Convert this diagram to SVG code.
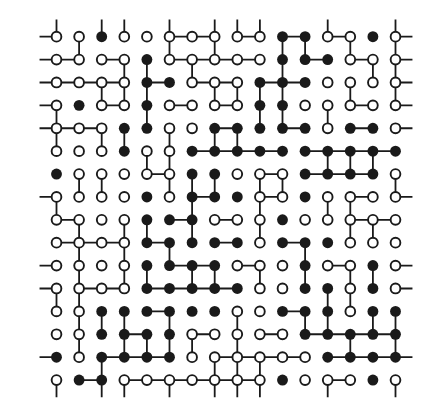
<svg xmlns="http://www.w3.org/2000/svg" width="435" height="412" viewBox="0 0 435 412">
<style>
.e{fill:none;stroke:#1a1a1a;stroke-width:1.8;vector-effect:non-scaling-stroke}
.o{fill:#fff;stroke:#1a1a1a;stroke-width:1.9;vector-effect:non-scaling-stroke}
.f{fill:#1a1a1a}
</style>
<rect width="435" height="412" fill="#fff"/>
<g transform="translate(56.5 36.7) scale(22.6 22.89)">
<g id="connectors">
<path class="e" d="M-0.75 0h0.75M-0.75 1h0.75M-0.75 2h0.75M-0.75 3h0.75M-0.75 4h0.75M-0.75 7h0.75M-0.75 10h0.75M-0.75 11h0.75M-0.75 14h0.75M15 0h0.75M15 1h0.75M15 2h0.75M15 3h0.75M15 4h0.75M15 7h0.75M15 10h0.75M15 11h0.75M15 14h0.75M0 -0.75v0.75M2 -0.75v0.75M3 -0.75v0.75M5 -0.75v0.75M7 -0.75v0.75M8 -0.75v0.75M9 -0.75v0.75M12 -0.75v0.75M15 -0.75v0.75M0 15v0.75M2 15v0.75M3 15v0.75M5 15v0.75M7 15v0.75M8 15v0.75M9 15v0.75M12 15v0.75M15 15v0.75"/>
<path class="e" d="M5 0h2M8 0h1M10 0h1M12 0h1M0 1h1M2 1h1M5 1h4M11 1h1M13 1h1M0 2h3M4 2h1M6 2h2M9 2h2M2 3h1M5 3h1M7 3h1M13 3h1M0 4h2M7 4h1M10 4h1M13 4h1M6 5h4M11 5h4M4 6h1M9 6h1M11 6h3M6 7h1M9 7h1M13 7h1M0 8h1M5 8h1M7 8h1M13 8h2M0 9h3M4 9h1M7 9h1M10 9h1M5 10h2M8 10h1M12 10h1M1 11h2M4 11h4M4 12h1M10 12h1M3 13h1M6 13h1M9 13h1M11 13h4M2 14h3M7 14h4M12 14h3M1 15h1M3 15h6M12 15h1"/>
<path class="e" d="M1 0v1M5 0v1M7 0v1M10 0v1M11 0v1M13 0v1M15 0v1M3 1v1M4 1v1M6 1v1M10 1v1M14 1v1M15 1v1M2 2v1M3 2v1M4 2v1M7 2v1M8 2v1M9 2v1M10 2v1M13 2v1M15 2v1M0 3v1M4 3v1M9 3v1M10 3v1M12 3v1M0 4v1M2 4v1M3 4v1M5 4v1M7 4v1M8 4v1M4 5v1M5 5v1M12 5v1M13 5v1M14 5v1M1 6v1M2 6v1M5 6v1M6 6v1M7 6v1M9 6v1M10 6v1M15 6v1M0 7v1M6 7v1M9 7v1M12 7v1M13 7v1M1 8v1M3 8v1M4 8v1M6 8v1M9 8v1M13 8v1M14 8v1M1 9v1M3 9v1M5 9v1M11 9v1M1 10v1M3 10v1M4 10v1M6 10v1M7 10v1M9 10v1M11 10v1M13 10v1M14 10v1M0 11v1M1 11v1M12 11v1M13 11v1M1 12v1M2 12v1M3 12v1M5 12v1M8 12v1M11 12v1M12 12v1M14 12v1M15 12v1M1 13v1M3 13v1M4 13v1M5 13v1M6 13v1M8 13v1M13 13v1M15 13v1M2 14v1M7 14v1M8 14v1M9 14v1"/>
</g>
<g id="nodes">
<g id="n1-1"><circle class="o" cx="0" cy="0" r=".215"/></g>
<g id="n1-2"><circle class="o" cx="1" cy="0" r=".215"/></g>
<g id="n1-3"><circle class="f" cx="2" cy="0" r=".24"/></g>
<g id="n1-4"><circle class="o" cx="3" cy="0" r=".215"/></g>
<g id="n1-5"><circle class="o" cx="4" cy="0" r=".215"/></g>
<g id="n1-6"><circle class="o" cx="5" cy="0" r=".215"/></g>
<g id="n1-7"><circle class="o" cx="6" cy="0" r=".215"/></g>
<g id="n1-8"><circle class="o" cx="7" cy="0" r=".215"/></g>
<g id="n1-9"><circle class="o" cx="8" cy="0" r=".215"/></g>
<g id="n1-10"><circle class="o" cx="9" cy="0" r=".215"/></g>
<g id="n1-11"><circle class="f" cx="10" cy="0" r=".24"/></g>
<g id="n1-12"><circle class="f" cx="11" cy="0" r=".24"/></g>
<g id="n1-13"><circle class="o" cx="12" cy="0" r=".215"/></g>
<g id="n1-14"><circle class="o" cx="13" cy="0" r=".215"/></g>
<g id="n1-15"><circle class="f" cx="14" cy="0" r=".24"/></g>
<g id="n1-16"><circle class="o" cx="15" cy="0" r=".215"/></g>
<g id="n2-1"><circle class="o" cx="0" cy="1" r=".215"/></g>
<g id="n2-2"><circle class="o" cx="1" cy="1" r=".215"/></g>
<g id="n2-3"><circle class="o" cx="2" cy="1" r=".215"/></g>
<g id="n2-4"><circle class="o" cx="3" cy="1" r=".215"/></g>
<g id="n2-5"><circle class="f" cx="4" cy="1" r=".24"/></g>
<g id="n2-6"><circle class="o" cx="5" cy="1" r=".215"/></g>
<g id="n2-7"><circle class="o" cx="6" cy="1" r=".215"/></g>
<g id="n2-8"><circle class="o" cx="7" cy="1" r=".215"/></g>
<g id="n2-9"><circle class="o" cx="8" cy="1" r=".215"/></g>
<g id="n2-10"><circle class="o" cx="9" cy="1" r=".215"/></g>
<g id="n2-11"><circle class="f" cx="10" cy="1" r=".24"/></g>
<g id="n2-12"><circle class="f" cx="11" cy="1" r=".24"/></g>
<g id="n2-13"><circle class="f" cx="12" cy="1" r=".24"/></g>
<g id="n2-14"><circle class="o" cx="13" cy="1" r=".215"/></g>
<g id="n2-15"><circle class="o" cx="14" cy="1" r=".215"/></g>
<g id="n2-16"><circle class="o" cx="15" cy="1" r=".215"/></g>
<g id="n3-1"><circle class="o" cx="0" cy="2" r=".215"/></g>
<g id="n3-2"><circle class="o" cx="1" cy="2" r=".215"/></g>
<g id="n3-3"><circle class="o" cx="2" cy="2" r=".215"/></g>
<g id="n3-4"><circle class="o" cx="3" cy="2" r=".215"/></g>
<g id="n3-5"><circle class="f" cx="4" cy="2" r=".24"/></g>
<g id="n3-6"><circle class="f" cx="5" cy="2" r=".24"/></g>
<g id="n3-7"><circle class="o" cx="6" cy="2" r=".215"/></g>
<g id="n3-8"><circle class="o" cx="7" cy="2" r=".215"/></g>
<g id="n3-9"><circle class="o" cx="8" cy="2" r=".215"/></g>
<g id="n3-10"><circle class="f" cx="9" cy="2" r=".24"/></g>
<g id="n3-11"><circle class="f" cx="10" cy="2" r=".24"/></g>
<g id="n3-12"><circle class="f" cx="11" cy="2" r=".24"/></g>
<g id="n3-13"><circle class="o" cx="12" cy="2" r=".215"/></g>
<g id="n3-14"><circle class="o" cx="13" cy="2" r=".215"/></g>
<g id="n3-15"><circle class="o" cx="14" cy="2" r=".215"/></g>
<g id="n3-16"><circle class="o" cx="15" cy="2" r=".215"/></g>
<g id="n4-1"><circle class="o" cx="0" cy="3" r=".215"/></g>
<g id="n4-2"><circle class="f" cx="1" cy="3" r=".24"/></g>
<g id="n4-3"><circle class="o" cx="2" cy="3" r=".215"/></g>
<g id="n4-4"><circle class="o" cx="3" cy="3" r=".215"/></g>
<g id="n4-5"><circle class="f" cx="4" cy="3" r=".24"/></g>
<g id="n4-6"><circle class="o" cx="5" cy="3" r=".215"/></g>
<g id="n4-7"><circle class="o" cx="6" cy="3" r=".215"/></g>
<g id="n4-8"><circle class="o" cx="7" cy="3" r=".215"/></g>
<g id="n4-9"><circle class="o" cx="8" cy="3" r=".215"/></g>
<g id="n4-10"><circle class="f" cx="9" cy="3" r=".24"/></g>
<g id="n4-11"><circle class="f" cx="10" cy="3" r=".24"/></g>
<g id="n4-12"><circle class="o" cx="11" cy="3" r=".215"/></g>
<g id="n4-13"><circle class="o" cx="12" cy="3" r=".215"/></g>
<g id="n4-14"><circle class="o" cx="13" cy="3" r=".215"/></g>
<g id="n4-15"><circle class="o" cx="14" cy="3" r=".215"/></g>
<g id="n4-16"><circle class="o" cx="15" cy="3" r=".215"/></g>
<g id="n5-1"><circle class="o" cx="0" cy="4" r=".215"/></g>
<g id="n5-2"><circle class="o" cx="1" cy="4" r=".215"/></g>
<g id="n5-3"><circle class="o" cx="2" cy="4" r=".215"/></g>
<g id="n5-4"><circle class="f" cx="3" cy="4" r=".24"/></g>
<g id="n5-5"><circle class="f" cx="4" cy="4" r=".24"/></g>
<g id="n5-6"><circle class="o" cx="5" cy="4" r=".215"/></g>
<g id="n5-7"><circle class="o" cx="6" cy="4" r=".215"/></g>
<g id="n5-8"><circle class="f" cx="7" cy="4" r=".24"/></g>
<g id="n5-9"><circle class="f" cx="8" cy="4" r=".24"/></g>
<g id="n5-10"><circle class="f" cx="9" cy="4" r=".24"/></g>
<g id="n5-11"><circle class="f" cx="10" cy="4" r=".24"/></g>
<g id="n5-12"><circle class="f" cx="11" cy="4" r=".24"/></g>
<g id="n5-13"><circle class="o" cx="12" cy="4" r=".215"/></g>
<g id="n5-14"><circle class="f" cx="13" cy="4" r=".24"/></g>
<g id="n5-15"><circle class="f" cx="14" cy="4" r=".24"/></g>
<g id="n5-16"><circle class="o" cx="15" cy="4" r=".215"/></g>
<g id="n6-1"><circle class="o" cx="0" cy="5" r=".215"/></g>
<g id="n6-2"><circle class="o" cx="1" cy="5" r=".215"/></g>
<g id="n6-3"><circle class="o" cx="2" cy="5" r=".215"/></g>
<g id="n6-4"><circle class="f" cx="3" cy="5" r=".24"/></g>
<g id="n6-5"><circle class="o" cx="4" cy="5" r=".215"/></g>
<g id="n6-6"><circle class="o" cx="5" cy="5" r=".215"/></g>
<g id="n6-7"><circle class="f" cx="6" cy="5" r=".24"/></g>
<g id="n6-8"><circle class="f" cx="7" cy="5" r=".24"/></g>
<g id="n6-9"><circle class="f" cx="8" cy="5" r=".24"/></g>
<g id="n6-10"><circle class="f" cx="9" cy="5" r=".24"/></g>
<g id="n6-11"><circle class="f" cx="10" cy="5" r=".24"/></g>
<g id="n6-12"><circle class="f" cx="11" cy="5" r=".24"/></g>
<g id="n6-13"><circle class="f" cx="12" cy="5" r=".24"/></g>
<g id="n6-14"><circle class="f" cx="13" cy="5" r=".24"/></g>
<g id="n6-15"><circle class="f" cx="14" cy="5" r=".24"/></g>
<g id="n6-16"><circle class="f" cx="15" cy="5" r=".24"/></g>
<g id="n7-1"><circle class="f" cx="0" cy="6" r=".24"/></g>
<g id="n7-2"><circle class="o" cx="1" cy="6" r=".215"/></g>
<g id="n7-3"><circle class="o" cx="2" cy="6" r=".215"/></g>
<g id="n7-4"><circle class="o" cx="3" cy="6" r=".215"/></g>
<g id="n7-5"><circle class="o" cx="4" cy="6" r=".215"/></g>
<g id="n7-6"><circle class="o" cx="5" cy="6" r=".215"/></g>
<g id="n7-7"><circle class="f" cx="6" cy="6" r=".24"/></g>
<g id="n7-8"><circle class="f" cx="7" cy="6" r=".24"/></g>
<g id="n7-9"><circle class="o" cx="8" cy="6" r=".215"/></g>
<g id="n7-10"><circle class="o" cx="9" cy="6" r=".215"/></g>
<g id="n7-11"><circle class="o" cx="10" cy="6" r=".215"/></g>
<g id="n7-12"><circle class="f" cx="11" cy="6" r=".24"/></g>
<g id="n7-13"><circle class="f" cx="12" cy="6" r=".24"/></g>
<g id="n7-14"><circle class="f" cx="13" cy="6" r=".24"/></g>
<g id="n7-15"><circle class="f" cx="14" cy="6" r=".24"/></g>
<g id="n7-16"><circle class="o" cx="15" cy="6" r=".215"/></g>
<g id="n8-1"><circle class="o" cx="0" cy="7" r=".215"/></g>
<g id="n8-2"><circle class="o" cx="1" cy="7" r=".215"/></g>
<g id="n8-3"><circle class="o" cx="2" cy="7" r=".215"/></g>
<g id="n8-4"><circle class="o" cx="3" cy="7" r=".215"/></g>
<g id="n8-5"><circle class="f" cx="4" cy="7" r=".24"/></g>
<g id="n8-6"><circle class="o" cx="5" cy="7" r=".215"/></g>
<g id="n8-7"><circle class="f" cx="6" cy="7" r=".24"/></g>
<g id="n8-8"><circle class="f" cx="7" cy="7" r=".24"/></g>
<g id="n8-9"><circle class="f" cx="8" cy="7" r=".24"/></g>
<g id="n8-10"><circle class="o" cx="9" cy="7" r=".215"/></g>
<g id="n8-11"><circle class="o" cx="10" cy="7" r=".215"/></g>
<g id="n8-12"><circle class="f" cx="11" cy="7" r=".24"/></g>
<g id="n8-13"><circle class="o" cx="12" cy="7" r=".215"/></g>
<g id="n8-14"><circle class="o" cx="13" cy="7" r=".215"/></g>
<g id="n8-15"><circle class="o" cx="14" cy="7" r=".215"/></g>
<g id="n8-16"><circle class="o" cx="15" cy="7" r=".215"/></g>
<g id="n9-1"><circle class="o" cx="0" cy="8" r=".215"/></g>
<g id="n9-2"><circle class="o" cx="1" cy="8" r=".215"/></g>
<g id="n9-3"><circle class="o" cx="2" cy="8" r=".215"/></g>
<g id="n9-4"><circle class="o" cx="3" cy="8" r=".215"/></g>
<g id="n9-5"><circle class="f" cx="4" cy="8" r=".24"/></g>
<g id="n9-6"><circle class="f" cx="5" cy="8" r=".24"/></g>
<g id="n9-7"><circle class="f" cx="6" cy="8" r=".24"/></g>
<g id="n9-8"><circle class="o" cx="7" cy="8" r=".215"/></g>
<g id="n9-9"><circle class="o" cx="8" cy="8" r=".215"/></g>
<g id="n9-10"><circle class="o" cx="9" cy="8" r=".215"/></g>
<g id="n9-11"><circle class="f" cx="10" cy="8" r=".24"/></g>
<g id="n9-12"><circle class="o" cx="11" cy="8" r=".215"/></g>
<g id="n9-13"><circle class="o" cx="12" cy="8" r=".215"/></g>
<g id="n9-14"><circle class="o" cx="13" cy="8" r=".215"/></g>
<g id="n9-15"><circle class="o" cx="14" cy="8" r=".215"/></g>
<g id="n9-16"><circle class="o" cx="15" cy="8" r=".215"/></g>
<g id="n10-1"><circle class="o" cx="0" cy="9" r=".215"/></g>
<g id="n10-2"><circle class="o" cx="1" cy="9" r=".215"/></g>
<g id="n10-3"><circle class="o" cx="2" cy="9" r=".215"/></g>
<g id="n10-4"><circle class="o" cx="3" cy="9" r=".215"/></g>
<g id="n10-5"><circle class="f" cx="4" cy="9" r=".24"/></g>
<g id="n10-6"><circle class="f" cx="5" cy="9" r=".24"/></g>
<g id="n10-7"><circle class="f" cx="6" cy="9" r=".24"/></g>
<g id="n10-8"><circle class="f" cx="7" cy="9" r=".24"/></g>
<g id="n10-9"><circle class="f" cx="8" cy="9" r=".24"/></g>
<g id="n10-10"><circle class="o" cx="9" cy="9" r=".215"/></g>
<g id="n10-11"><circle class="f" cx="10" cy="9" r=".24"/></g>
<g id="n10-12"><circle class="f" cx="11" cy="9" r=".24"/></g>
<g id="n10-13"><circle class="f" cx="12" cy="9" r=".24"/></g>
<g id="n10-14"><circle class="o" cx="13" cy="9" r=".215"/></g>
<g id="n10-15"><circle class="o" cx="14" cy="9" r=".215"/></g>
<g id="n10-16"><circle class="o" cx="15" cy="9" r=".215"/></g>
<g id="n11-1"><circle class="o" cx="0" cy="10" r=".215"/></g>
<g id="n11-2"><circle class="o" cx="1" cy="10" r=".215"/></g>
<g id="n11-3"><circle class="o" cx="2" cy="10" r=".215"/></g>
<g id="n11-4"><circle class="o" cx="3" cy="10" r=".215"/></g>
<g id="n11-5"><circle class="f" cx="4" cy="10" r=".24"/></g>
<g id="n11-6"><circle class="f" cx="5" cy="10" r=".24"/></g>
<g id="n11-7"><circle class="f" cx="6" cy="10" r=".24"/></g>
<g id="n11-8"><circle class="f" cx="7" cy="10" r=".24"/></g>
<g id="n11-9"><circle class="o" cx="8" cy="10" r=".215"/></g>
<g id="n11-10"><circle class="o" cx="9" cy="10" r=".215"/></g>
<g id="n11-11"><circle class="o" cx="10" cy="10" r=".215"/></g>
<g id="n11-12"><circle class="f" cx="11" cy="10" r=".24"/></g>
<g id="n11-13"><circle class="o" cx="12" cy="10" r=".215"/></g>
<g id="n11-14"><circle class="o" cx="13" cy="10" r=".215"/></g>
<g id="n11-15"><circle class="f" cx="14" cy="10" r=".24"/></g>
<g id="n11-16"><circle class="o" cx="15" cy="10" r=".215"/></g>
<g id="n12-1"><circle class="o" cx="0" cy="11" r=".215"/></g>
<g id="n12-2"><circle class="o" cx="1" cy="11" r=".215"/></g>
<g id="n12-3"><circle class="o" cx="2" cy="11" r=".215"/></g>
<g id="n12-4"><circle class="o" cx="3" cy="11" r=".215"/></g>
<g id="n12-5"><circle class="f" cx="4" cy="11" r=".24"/></g>
<g id="n12-6"><circle class="f" cx="5" cy="11" r=".24"/></g>
<g id="n12-7"><circle class="f" cx="6" cy="11" r=".24"/></g>
<g id="n12-8"><circle class="f" cx="7" cy="11" r=".24"/></g>
<g id="n12-9"><circle class="f" cx="8" cy="11" r=".24"/></g>
<g id="n12-10"><circle class="o" cx="9" cy="11" r=".215"/></g>
<g id="n12-11"><circle class="o" cx="10" cy="11" r=".215"/></g>
<g id="n12-12"><circle class="f" cx="11" cy="11" r=".24"/></g>
<g id="n12-13"><circle class="f" cx="12" cy="11" r=".24"/></g>
<g id="n12-14"><circle class="o" cx="13" cy="11" r=".215"/></g>
<g id="n12-15"><circle class="f" cx="14" cy="11" r=".24"/></g>
<g id="n12-16"><circle class="o" cx="15" cy="11" r=".215"/></g>
<g id="n13-1"><circle class="o" cx="0" cy="12" r=".215"/></g>
<g id="n13-2"><circle class="o" cx="1" cy="12" r=".215"/></g>
<g id="n13-3"><circle class="f" cx="2" cy="12" r=".24"/></g>
<g id="n13-4"><circle class="f" cx="3" cy="12" r=".24"/></g>
<g id="n13-5"><circle class="f" cx="4" cy="12" r=".24"/></g>
<g id="n13-6"><circle class="f" cx="5" cy="12" r=".24"/></g>
<g id="n13-7"><circle class="f" cx="6" cy="12" r=".24"/></g>
<g id="n13-8"><circle class="f" cx="7" cy="12" r=".24"/></g>
<g id="n13-9"><circle class="o" cx="8" cy="12" r=".215"/></g>
<g id="n13-10"><circle class="o" cx="9" cy="12" r=".215"/></g>
<g id="n13-11"><circle class="f" cx="10" cy="12" r=".24"/></g>
<g id="n13-12"><circle class="f" cx="11" cy="12" r=".24"/></g>
<g id="n13-13"><circle class="f" cx="12" cy="12" r=".24"/></g>
<g id="n13-14"><circle class="o" cx="13" cy="12" r=".215"/></g>
<g id="n13-15"><circle class="f" cx="14" cy="12" r=".24"/></g>
<g id="n13-16"><circle class="f" cx="15" cy="12" r=".24"/></g>
<g id="n14-1"><circle class="o" cx="0" cy="13" r=".215"/></g>
<g id="n14-2"><circle class="o" cx="1" cy="13" r=".215"/></g>
<g id="n14-3"><circle class="f" cx="2" cy="13" r=".24"/></g>
<g id="n14-4"><circle class="f" cx="3" cy="13" r=".24"/></g>
<g id="n14-5"><circle class="f" cx="4" cy="13" r=".24"/></g>
<g id="n14-6"><circle class="f" cx="5" cy="13" r=".24"/></g>
<g id="n14-7"><circle class="o" cx="6" cy="13" r=".215"/></g>
<g id="n14-8"><circle class="o" cx="7" cy="13" r=".215"/></g>
<g id="n14-9"><circle class="o" cx="8" cy="13" r=".215"/></g>
<g id="n14-10"><circle class="o" cx="9" cy="13" r=".215"/></g>
<g id="n14-11"><circle class="o" cx="10" cy="13" r=".215"/></g>
<g id="n14-12"><circle class="f" cx="11" cy="13" r=".24"/></g>
<g id="n14-13"><circle class="f" cx="12" cy="13" r=".24"/></g>
<g id="n14-14"><circle class="f" cx="13" cy="13" r=".24"/></g>
<g id="n14-15"><circle class="f" cx="14" cy="13" r=".24"/></g>
<g id="n14-16"><circle class="f" cx="15" cy="13" r=".24"/></g>
<g id="n15-1"><circle class="f" cx="0" cy="14" r=".24"/></g>
<g id="n15-2"><circle class="o" cx="1" cy="14" r=".215"/></g>
<g id="n15-3"><circle class="f" cx="2" cy="14" r=".24"/></g>
<g id="n15-4"><circle class="f" cx="3" cy="14" r=".24"/></g>
<g id="n15-5"><circle class="f" cx="4" cy="14" r=".24"/></g>
<g id="n15-6"><circle class="f" cx="5" cy="14" r=".24"/></g>
<g id="n15-7"><circle class="o" cx="6" cy="14" r=".215"/></g>
<g id="n15-8"><circle class="o" cx="7" cy="14" r=".215"/></g>
<g id="n15-9"><circle class="o" cx="8" cy="14" r=".215"/></g>
<g id="n15-10"><circle class="o" cx="9" cy="14" r=".215"/></g>
<g id="n15-11"><circle class="o" cx="10" cy="14" r=".215"/></g>
<g id="n15-12"><circle class="o" cx="11" cy="14" r=".215"/></g>
<g id="n15-13"><circle class="f" cx="12" cy="14" r=".24"/></g>
<g id="n15-14"><circle class="f" cx="13" cy="14" r=".24"/></g>
<g id="n15-15"><circle class="f" cx="14" cy="14" r=".24"/></g>
<g id="n15-16"><circle class="f" cx="15" cy="14" r=".24"/></g>
<g id="n16-1"><circle class="o" cx="0" cy="15" r=".215"/></g>
<g id="n16-2"><circle class="f" cx="1" cy="15" r=".24"/></g>
<g id="n16-3"><circle class="f" cx="2" cy="15" r=".24"/></g>
<g id="n16-4"><circle class="o" cx="3" cy="15" r=".215"/></g>
<g id="n16-5"><circle class="o" cx="4" cy="15" r=".215"/></g>
<g id="n16-6"><circle class="o" cx="5" cy="15" r=".215"/></g>
<g id="n16-7"><circle class="o" cx="6" cy="15" r=".215"/></g>
<g id="n16-8"><circle class="o" cx="7" cy="15" r=".215"/></g>
<g id="n16-9"><circle class="o" cx="8" cy="15" r=".215"/></g>
<g id="n16-10"><circle class="o" cx="9" cy="15" r=".215"/></g>
<g id="n16-11"><circle class="f" cx="10" cy="15" r=".24"/></g>
<g id="n16-12"><circle class="o" cx="11" cy="15" r=".215"/></g>
<g id="n16-13"><circle class="o" cx="12" cy="15" r=".215"/></g>
<g id="n16-14"><circle class="o" cx="13" cy="15" r=".215"/></g>
<g id="n16-15"><circle class="f" cx="14" cy="15" r=".24"/></g>
<g id="n16-16"><circle class="o" cx="15" cy="15" r=".215"/></g>
</g>
</g>
</svg>
